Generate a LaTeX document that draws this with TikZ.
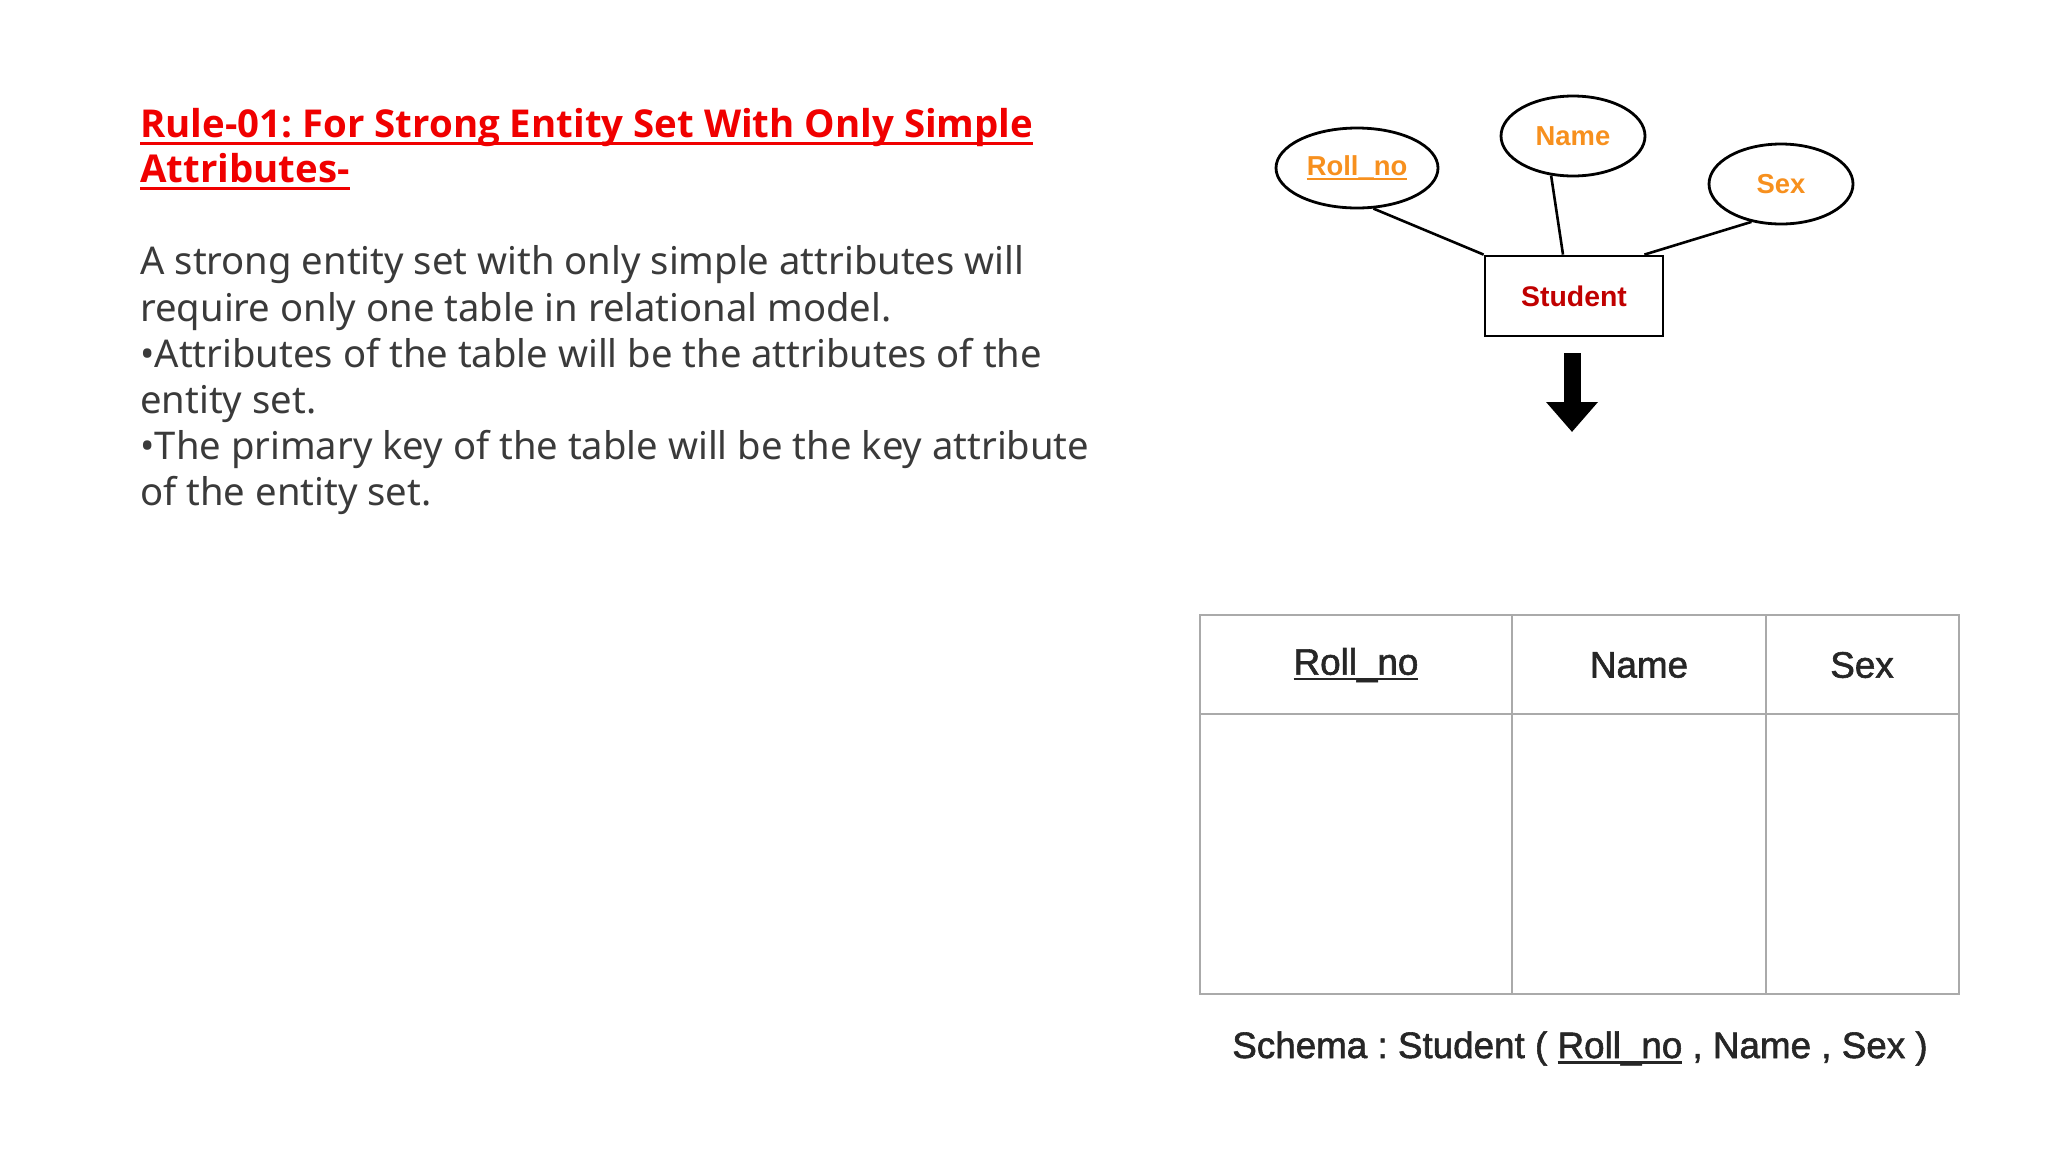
\documentclass[tikz,border=0pt]{standalone}
\usepackage{fontspec}
\setmainfont{Noto Sans}
\newfontfamily\titlefont{Open Sans}
\newfontfamily\arialfont{Liberation Sans}
\newfontfamily\tablefont[FakeBold=1.6]{Liberation Sans}
\usetikzlibrary{shapes.geometric,arrows.meta}
\definecolor{rulered}{RGB}{240,0,0}
\definecolor{bodygray}{RGB}{58,58,58}
\definecolor{attrorange}{RGB}{247,144,30}
\definecolor{entred}{RGB}{192,0,0}
\definecolor{cellgray}{RGB}{170,170,170}
\definecolor{tabtext}{RGB}{38,38,38}
\newcommand{\ulword}[3]{\leavevmode\setbox0=\hbox{#3}\rlap{\rule[-#1]{\wd0}{#2}}\box0{}}
\frenchspacing
\tikzset{
	attr/.style={ellipse,draw,line width=1.4pt,inner sep=0pt,minimum width=72pt,minimum height=40pt,text=attrorange,font=\arialfont\bfseries\fontsize{13.7}{15}\selectfont},
	entity/.style={rectangle,draw,line width=1.4pt,inner sep=0pt,minimum width=89pt,minimum height=40pt,text=entred,font=\arialfont\bfseries\fontsize{14.2}{16}\selectfont},
	link/.style={line width=1.3pt},
	cellline/.style={cellgray,line width=1pt},
	colhead/.style={text=tabtext,font=\tablefont\fontsize{18.4}{21}\selectfont}
}

\begin{document}
\begin{tikzpicture}[x=0.5pt,y=-0.5pt]
			\fill[white] (0,0) rectangle (2048,1152);
			\useasboundingbox (0,0) rectangle (2048,1152);
			
			\node[anchor=north west,inner sep=0pt,align=left,text=rulered,font=\titlefont\bfseries\fontsize{19.2}{22.6}\selectfont] (rule) at (140,107.5) {\ulword{3.8pt}{1.5pt}{Rule-01: For Strong Entity Set With Only Simple}\\\ulword{3.8pt}{1.5pt}{Attributes-}};
			
			\node[anchor=north west,inner sep=0pt,align=left,text=bodygray,font=\fontsize{19.1}{23.1}\selectfont] (body) at (140,245.5) {A strong entity set with only simple attributes will\\require only one table in relational model.\\\textbullet Attributes of the table will be the attributes of the\\entity set.\\\textbullet The primary key of the table will be the key attribute\\of the entity set.};
			
			\node[attr,minimum width=81pt] (roll) at (1357,168) {\ulword{2pt}{1pt}{Roll\_no}};
			\node[attr] (name) at (1573,136) {Name};
			\node[attr] (sex) at (1781,184) {Sex};
			\node[entity] (student) at (1574,296) {Student};
			\draw[link] (roll.-68) -- (student.north west);
			\draw[link] (name.-119) -- ([xshift=-5.5pt]student.north);
			\draw[link] (sex.-128) -- ([xshift=-10pt]student.north east);
			
			\coordinate (tip) at (1572,432);
			\draw[line width=8.5pt,-{Triangle[width=25pt,length=15pt]}] ([yshift=-8pt,xshift=-1pt]student.south) -- (tip);
			
			\draw[cellline] (1200,615) rectangle (1959,994);
			\draw[cellline] (1200,714) -- (1959,714);
			\foreach \cx in {1512,1766}
				\draw[cellline] (\cx,615) -- (\cx,994);
			\node[colhead] (hroll) at (1356,665) {\ulword{2.8pt}{1.1pt}{Roll\_no}};
			\node[colhead] (hname) at (1639,665) {Name};
			\node[colhead] (hsex) at (1862,665) {Sex};
			
			\node[colhead,anchor=base] (schema) at (1580,1058) {Schema : Student ( \ulword{2.8pt}{1.1pt}{Roll\_no} , Name , Sex )};
		\end{tikzpicture}
\end{document}
